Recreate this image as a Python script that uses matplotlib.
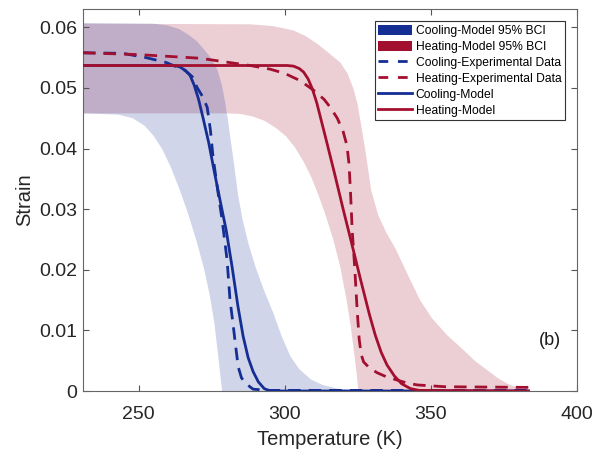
import numpy as np
import matplotlib
matplotlib.use("Agg")
import matplotlib.pyplot as plt
from matplotlib.patches import Patch
from matplotlib.lines import Line2D

plt.rcParams['font.family'] = ['Liberation Sans', 'DejaVu Sans']

BLUE = '#142e94'
RED = '#a30f2e'

# Cooling model 95% BCI
cool_up_T = [231, 255, 260, 264, 267, 270, 272.5, 275, 277, 278.5, 279.5, 280.5, 281.5, 282.8, 284, 285.5, 287.5, 290, 293, 296, 299, 302, 305, 309, 313, 318, 324, 327]
cool_up_S = [0.0607, 0.0606, 0.0603, 0.0597, 0.0588, 0.0577, 0.0563, 0.0548, 0.0530, 0.0505, 0.0480, 0.0450, 0.0415, 0.0370, 0.0325, 0.0285, 0.0245, 0.0205, 0.0165, 0.0130, 0.0090, 0.0057, 0.0036, 0.0019, 0.0010, 0.0004, 0.0001, 0.0]
cool_lo_T = [231, 243, 248, 252, 255, 258, 261, 264, 267, 270, 272.5, 274.5, 276, 277.2, 278, 278.6]
cool_lo_S = [0.0458, 0.0456, 0.0450, 0.0438, 0.0422, 0.0400, 0.0370, 0.0333, 0.0292, 0.0245, 0.0200, 0.0155, 0.0110, 0.0060, 0.0025, 0.0]

# Heating model 95% BCI
heat_up_T = [231, 288.2, 296, 302.9, 307, 311.1, 315, 319, 321.5, 323.5, 325, 325.9, 327.6, 329.6, 332.0, 334.7, 338.1, 342.2, 346.3, 350.4, 355.6, 361.1, 365, 369.4, 373, 376.2, 380, 384]
heat_up_S = [0.0606, 0.0605, 0.0602, 0.0595, 0.0586, 0.0573, 0.0558, 0.0542, 0.0524, 0.0499, 0.0472, 0.0446, 0.0397, 0.0331, 0.0290, 0.0262, 0.0233, 0.0191, 0.0150, 0.0120, 0.0092, 0.0068, 0.0050, 0.0034, 0.0021, 0.0012, 0.0005, 0.0]
heat_lo_T = [231, 280, 285, 289, 293, 297, 300.5, 303.5, 306.5, 309, 311.5, 314, 316.5, 319, 321, 322.5, 323.7, 324.6, 325.2]
heat_lo_S = [0.0458, 0.0458, 0.0457, 0.0453, 0.0446, 0.0434, 0.0420, 0.0402, 0.0378, 0.0354, 0.0324, 0.0290, 0.0252, 0.0205, 0.0155, 0.0110, 0.0065, 0.0030, 0.0]

# Cooling experimental data
cool_exp_T = [231, 244.7, 252.6, 259.4, 265.9, 268.5, 270.0, 272.0, 273.5, 274.6, 275.5, 277.0, 278.6, 280.3, 281.3, 282.3, 283.1, 284.1, 285.2, 286.5, 289.2, 295, 383.4]
cool_exp_S = [0.0558, 0.0557, 0.0550, 0.0542, 0.0529, 0.0518, 0.0501, 0.0485, 0.0468, 0.0430, 0.0386, 0.0334, 0.0282, 0.0216, 0.0150, 0.0112, 0.0079, 0.0040, 0.0022, 0.0013, 0.0003, 0.0001, 0.0001]

# Heating experimental data
heat_exp_T = [231, 250, 271, 288.2, 295, 300, 305.3, 310.5, 313.5, 315.6, 318, 320, 321.3, 322, 322.5, 323.1, 324, 324.8, 325.5, 326.2, 327, 329, 331.7, 335, 338.5, 342, 345.4, 355, 383.4]
heat_exp_S = [0.0558, 0.0555, 0.0549, 0.0537, 0.0531, 0.0524, 0.0512, 0.0494, 0.0481, 0.0468, 0.0450, 0.0428, 0.0405, 0.0375, 0.0330, 0.0265, 0.0200, 0.0133, 0.0085, 0.0060, 0.0048, 0.0038, 0.0030, 0.0023, 0.0018, 0.0013, 0.0010, 0.0007, 0.0006]

# Cooling model
cool_mod_T = [231, 262, 264, 266, 267.6, 269, 270.5, 272, 274, 276, 278, 280, 282, 284, 285.8, 287.5, 289.2, 291, 293, 295, 383.4]
cool_mod_S = [0.0537, 0.0537, 0.0535, 0.0529, 0.0521, 0.0505, 0.0482, 0.0452, 0.0410, 0.0360, 0.0312, 0.0265, 0.0205, 0.0140, 0.0090, 0.0055, 0.0032, 0.0015, 0.0004, 0.0, 0.0]

# Heating model
heat_mod_T = [231, 300.9, 303, 305, 306.5, 308, 309.5, 311, 314, 317, 320, 323, 326, 329, 331, 333, 335, 337.5, 340, 343, 346, 383.4]
heat_mod_S = [0.0537, 0.0537, 0.0536, 0.0532, 0.0526, 0.0515, 0.0498, 0.0475, 0.0418, 0.0360, 0.0300, 0.0242, 0.0183, 0.0126, 0.0092, 0.0064, 0.0043, 0.0025, 0.0012, 0.0004, 0.0001, 0.0]

x_ticks = [250, 300, 350, 400]
y_ticks = [0, 0.01, 0.02, 0.03, 0.04, 0.05, 0.06]
y_ticklabels = ['0', '0.01', '0.02', '0.03', '0.04', '0.05', '0.06']

fig = plt.figure(figsize=(5.97, 4.57), dpi=100)
ax = fig.add_axes([0.139, 0.1444, 0.8275, 0.8356])

ax.fill(np.concatenate([heat_up_T, heat_lo_T[::-1]]), np.concatenate([heat_up_S, heat_lo_S[::-1]]),
        color=RED, alpha=0.2, lw=0, zorder=1)
ax.fill(np.concatenate([cool_up_T, cool_lo_T[::-1]]), np.concatenate([cool_up_S, cool_lo_S[::-1]]),
        color=BLUE, alpha=0.2, lw=0, zorder=1)

dash = (4.5, 2.9)
ax.plot(cool_exp_T, cool_exp_S, color=BLUE, lw=2, ls='--', dashes=dash, zorder=3)
ax.plot(heat_exp_T, heat_exp_S, color=RED, lw=2, ls='--', dashes=dash, zorder=3)
ax.plot(cool_mod_T, cool_mod_S, color=BLUE, lw=2, zorder=4)
ax.plot(heat_mod_T, heat_mod_S, color=RED, lw=2, zorder=4)

ax.set_xlim(231, 400)
ax.set_ylim(0, 0.063)
ax.set_xticks(x_ticks)
ax.set_yticks(y_ticks)
ax.set_yticklabels(y_ticklabels)
ax.tick_params(direction='in', length=4, width=0.8, color='#555555', labelsize=14,
               top=True, right=True, labelcolor='#262626')
ax.tick_params(axis='x', pad=11)
ax.tick_params(axis='y', pad=4)
for s in ax.spines.values():
    s.set_color('#666666')
    s.set_linewidth(0.8)

ax.set_xlabel('Temperature (K)', fontsize=14.5, color='#262626', labelpad=5)
ax.set_ylabel('Strain', fontsize=14.5, color='#262626', labelpad=4)

ax.text(390.6, 0.0084, '(b)', fontsize=13, ha='center', va='center', color='#1a1a1a')

handles = [Patch(facecolor=BLUE, edgecolor='none'),
           Patch(facecolor=RED, edgecolor='none'),
           Line2D([], [], color=BLUE, lw=2, ls='--', dashes=(3.5, 3.5)),
           Line2D([], [], color=RED, lw=2, ls='--', dashes=(3.5, 3.5)),
           Line2D([], [], color=BLUE, lw=2),
           Line2D([], [], color=RED, lw=2)]
labels = ['Cooling-Model 95% BCI', 'Heating-Model 95% BCI', 'Cooling-Experimental Data',
          'Heating-Experimental Data', 'Cooling-Model', 'Heating-Model']
leg = ax.legend(handles, labels, loc='upper right', bbox_to_anchor=(0.976, 0.969),
                borderaxespad=0, fontsize=8.7, handlelength=2.8, handleheight=1.0,
                labelspacing=0.28, handletextpad=0.3, borderpad=0.3, fancybox=False,
                framealpha=1, edgecolor='#333333')
leg.get_frame().set_linewidth(0.8)

fig.savefig('out.png', dpi=100)
